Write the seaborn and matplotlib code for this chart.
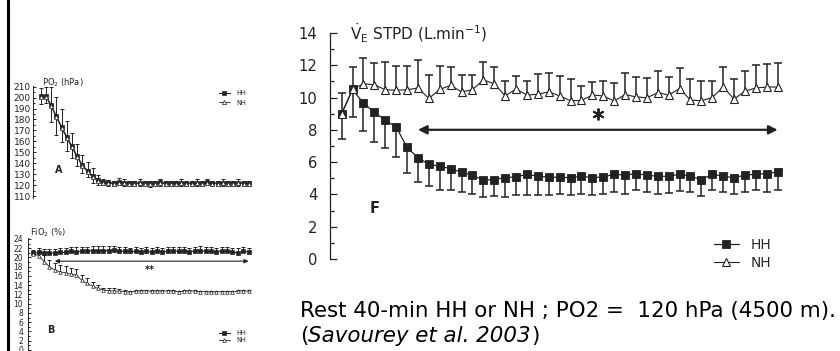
import numpy as np
import matplotlib
matplotlib.use("Agg")
import matplotlib.pyplot as plt
import seaborn as sns
from matplotlib.lines import Line2D

# minutes of rest (41 samples, one per minute)
minutes = np.arange(41)

# panel A : PO2 (hPa)
po2_hh = [201.5, 201.5, 193.3, 183.2, 173.4, 164.3, 155.7, 146.6, 138.4, 133.2, 128.3,
          124.6, 123.0, 122.5, 122.0, 122.8, 122.3, 122.0, 121.8, 122.2, 121.9, 122.1,
          121.8, 122.4, 122.0, 121.7, 122.1, 122.3, 121.9, 122.0, 122.2, 121.8, 122.4,
          122.0, 121.9, 122.2, 122.0, 121.8, 122.3, 122.1, 122.0]
po2_nh = [200.5, 200.8, 192.0, 182.0, 172.5, 163.0, 154.5, 145.5, 137.5, 132.0, 127.0,
          123.5, 122.0, 121.5, 121.3, 122.0, 121.6, 121.2, 121.0, 121.5, 121.2, 121.4,
          121.0, 121.6, 121.3, 121.0, 121.4, 121.6, 121.2, 121.3, 121.5, 121.1, 121.7,
          121.3, 121.2, 121.5, 121.3, 121.1, 121.6, 121.4, 121.3]
po2_hh_sd = [7, 8, 16, 17, 16, 14, 12, 11, 9, 8, 7, 5, 3, 2.5, 2, 4, 3, 2, 2, 3, 2, 2,
             2, 3, 2, 2, 2, 3, 2, 2, 3, 2, 3, 2, 2, 3, 2, 2, 3, 2, 2]
po2_nh_sd = [6, 6, 14, 16, 13, 12, 10, 8, 6, 5, 5, 3, 2, 2, 2, 2, 2, 2, 2, 2, 2, 3,
             2, 2, 2, 2, 2, 2, 2, 2, 2, 2, 2, 2, 2, 2, 2, 2, 2, 2, 2]

# panel B : FiO2 (%)
fio2_hh = [20.9, 21.1, 21.0, 21.0, 20.9, 21.1, 21.1, 21.3, 21.2, 21.3, 21.4, 21.5, 21.5,
           21.5, 21.5, 21.6, 21.3, 21.4, 21.3, 21.3, 21.2, 21.3, 21.2, 21.3, 21.2, 21.3,
           21.3, 21.4, 21.3, 21.2, 21.4, 21.5, 21.3, 21.3, 21.2, 21.4, 21.3, 21.2, 21.0,
           21.3, 21.2]
fio2_nh = [20.8, 20.4, 19.1, 18.0, 17.3, 16.9, 16.7, 16.4, 16.2, 15.1, 14.4, 13.8, 13.3,
           13.0, 12.8, 12.8, 12.7, 12.6, 12.5, 12.7, 12.8, 12.8, 12.7, 12.8, 12.7, 12.8,
           12.7, 12.6, 12.7, 12.8, 12.7, 12.6, 12.6, 12.5, 12.6, 12.6, 12.6, 12.6, 12.7,
           12.8, 12.7]
fio2_hh_sd = [0.8, 0.9, 0.9, 0.8, 1.0, 0.9, 0.9, 0.9, 1.0, 0.9, 0.9, 0.9, 0.9, 0.9, 0.9,
              0.9, 0.9, 0.8, 0.8, 0.9, 0.9, 0.9, 0.9, 0.9, 0.9, 0.9, 0.9, 0.9, 1.0, 0.9,
              0.9, 0.9, 0.9, 0.9, 0.9, 0.9, 0.9, 0.9, 1.0, 0.9, 0.9]
fio2_nh_sd = [0.5, 0.9, 1.4, 1.5, 1.5, 1.4, 1.4, 1.4, 1.3, 1.2, 1.1, 0.9, 0.7, 0.5, 0.5,
              0.5, 0.4, 0.4, 0.3, 0.2, 0.2, 0.2, 0.2, 0.2, 0.2, 0.2, 0.2, 0.2, 0.2, 0.2,
              0.2, 0.2, 0.2, 0.2, 0.2, 0.2, 0.2, 0.2, 0.2, 0.2, 0.2]

# panel F : VE STPD (L.min-1)
ve_hh = [9.0, 10.5, 9.64, 9.09, 8.59, 8.18, 6.91, 6.27, 5.86, 5.74, 5.6, 5.36, 5.19,
         4.88, 4.92, 5.04, 5.08, 5.25, 5.12, 5.08, 5.05, 5.04, 5.12, 5.04, 5.08, 5.25,
         5.19, 5.29, 5.19, 5.12, 5.12, 5.25, 5.12, 4.92, 5.25, 5.12, 5.04, 5.19, 5.25,
         5.29, 5.39]
ve_hh_sd = [1.55, 1.72, 1.72, 1.82, 1.74, 1.85, 1.61, 1.5, 1.36, 1.44, 1.3, 1.21, 1.18,
            1.03, 1.03, 1.19, 1.09, 1.26, 1.17, 1.13, 1.05, 1.09, 1.12, 1.09, 1.08, 1.1,
            1.15, 1.03, 1.04, 1.08, 1.04, 1.05, 0.97, 1.03, 0.99, 0.97, 1.04, 1.04, 0.99,
            1.14, 1.09]
ve_nh = [9.0, 10.5, 10.85, 10.79, 10.48, 10.45, 10.48, 10.59, 9.94, 10.5, 10.75, 10.35,
         10.48, 11.09, 10.85, 10.1, 10.53, 10.15, 10.2, 10.35, 10.1, 9.8, 9.82, 10.15,
         10.1, 9.78, 10.18, 10.04, 9.98, 10.3, 10.15, 10.55, 9.84, 9.8, 10.0, 10.65, 9.9,
         10.39, 10.59, 10.65, 10.65]
ve_nh_sd = [1.3, 1.37, 1.62, 1.37, 1.74, 1.51, 1.49, 1.71, 1.45, 1.47, 1.15, 1.07, 0.94,
            1.13, 1.01, 0.91, 0.83, 0.9, 1.25, 1.15, 1.25, 1.35, 0.87, 0.8, 0.95, 1.13,
            1.32, 1.21, 1.21, 1.32, 1.15, 1.27, 1.31, 1.25, 1.05, 1.21, 1.25, 1.23, 1.41,
            1.41, 1.51]

W, H = 840, 351
INK = "#222222"

sns.set_style("ticks")
plt.rcParams["font.family"] = ["DejaVu Sans"]
plt.rcParams["mathtext.fontset"] = "dejavusans"

fig = plt.figure(figsize=(W / 100, H / 100), dpi=100)


def px_axes(left, top, right, bottom):
    return fig.add_axes([left / W, 1 - bottom / H, (right - left) / W, (bottom - top) / H])


def bars(ax, x, y, sd, up, lw, cap):
    y = np.asarray(y, float)
    end = y + np.asarray(sd) if up else y - np.asarray(sd)
    ax.vlines(x, y, end, colors=INK, lw=lw, zorder=2)
    ax.plot(x, end, ls="none", marker="_", ms=cap, mew=lw, color=INK, zorder=2)


def style_axis(ax, size, pad, major, minor, lw):
    sns.despine(ax=ax, bottom=True)
    ax.spines["left"].set_linewidth(lw)
    ax.spines["left"].set_color(INK)
    ax.tick_params(axis="y", which="major", direction="in", length=major, width=lw,
                   labelsize=size, pad=pad, colors=INK)
    ax.tick_params(axis="y", which="minor", direction="in", length=minor, width=lw, colors=INK)
    ax.set_xticks([])
    ax.set_xlabel("")
    ax.set_ylabel("")
    ax.patch.set_alpha(0)


# ---------------- panel A ----------------
axA = px_axes(33, 85.6, 255, 198.2)
bars(axA, minutes, po2_hh, po2_hh_sd, True, 0.7, 3.4)
bars(axA, minutes, po2_nh, po2_nh_sd, False, 0.7, 3.4)
sns.lineplot(x=minutes, y=po2_hh, ax=axA, color=INK, lw=0.8, marker="s", ms=3.2,
             mec=INK, mew=0.5, label="HH", zorder=3)
sns.lineplot(x=minutes, y=po2_nh, ax=axA, color=INK, lw=0.6, marker="^", ms=3,
             mfc="white", mec=INK, mew=0.5, label="NH", zorder=3)
axA.set_xlim(-1.48, 41.2)
axA.set_ylim(108, 211)
axA.set_yticks(np.arange(110, 211, 10))
axA.set_yticks(np.arange(110, 211, 5), minor=True)
style_axis(axA, 6.5, 1.5, 2.5, 1.5, 0.7)
axA.text(0.25, 213.4, "PO$_2$ (hPa)", fontsize=6, color=INK, va="center", clip_on=False)
axA.text(2.75, 133.8, "A", fontsize=7, weight="bold", color=INK, va="center")
h, l = axA.get_legend_handles_labels()
axA.legend(h, l, loc="center left", bbox_to_anchor=(219 / W, 1 - 98 / H),
           bbox_transform=fig.transFigure, frameon=False, fontsize=4.8, handlelength=1.6,
           handletextpad=1.0, labelspacing=0.5, borderpad=0, borderaxespad=0)

# ---------------- panel B ----------------
axB = px_axes(28, 237.6, 255, 350.9)
bars(axB, minutes, fio2_hh, fio2_hh_sd, True, 0.7, 3.0)
bars(axB, minutes, fio2_nh, fio2_nh_sd, True, 0.7, 3.0)
sns.lineplot(x=minutes, y=fio2_hh, ax=axB, color=INK, lw=0.8, marker="s", ms=3.2,
             mec=INK, mew=0.5, label="HH", zorder=3)
sns.lineplot(x=minutes, y=fio2_nh, ax=axB, color=INK, lw=0.6, marker="^", ms=2.6,
             mfc="white", mec=INK, mew=0.5, label="NH", zorder=3)
axB.set_xlim(-0.99, 41.2)
axB.set_ylim(-0.2, 24.3)
axB.set_yticks(np.arange(0, 25, 2))
axB.set_yticks(np.arange(0, 25, 1), minor=True)
style_axis(axB, 5.5, 3.5, 2.5, 1.5, 0.7)
axB.text(-0.6, 25.3, "FiO$_2$ (%)", fontsize=6, color=INK, va="center", clip_on=False)
axB.text(2.55, 4.3, "B", fontsize=7, weight="bold", color=INK, va="center")
axB.annotate("", xy=(40, 19.2), xytext=(4, 19.2),
             arrowprops=dict(arrowstyle="<|-|>", color=INK, lw=0.8, mutation_scale=6,
                             shrinkA=0, shrinkB=0))
axB.text(21.7, 17.3, "**", fontsize=7, weight="bold", color=INK, ha="center", va="center")
h, l = axB.get_legend_handles_labels()
axB.legend(h, l, loc="center left", bbox_to_anchor=(219 / W, 1 - 336.5 / H),
           bbox_transform=fig.transFigure, frameon=False, fontsize=4.8, handlelength=1.6,
           handletextpad=1.0, labelspacing=0.1, borderpad=0, borderaxespad=0)

# ---------------- panel F ----------------
axF = px_axes(330, 32.9, 800, 259)
bars(axF, minutes, ve_hh, ve_hh_sd, False, 1.1, 5.8)
bars(axF, minutes, ve_nh, ve_nh_sd, True, 1.1, 5.8)
sns.lineplot(x=minutes, y=ve_hh, ax=axF, color=INK, lw=0.9, marker="s", ms=5.2,
             mec=INK, mew=0.6, label="HH", zorder=3)
sns.lineplot(x=minutes, y=ve_nh, ax=axF, color=INK, lw=0.8, marker="^", ms=5.5,
             mfc="white", mec=INK, mew=0.8, label="NH", zorder=3)
axF.set_xlim(-1.07, 42.05)
axF.set_ylim(0, 14)
axF.set_yticks(np.arange(0, 15, 2))
axF.set_yticks(np.arange(1, 14, 2), minor=True)
style_axis(axF, 10.6, 9, 5, 3, 0.9)
axF.text(0.8, 14.0, r"$\dot{\mathrm{V}}_{\mathrm{E}}$ STPD (L.min$^{-1}$)", fontsize=11,
         color=INK, va="center", clip_on=False)
axF.text(3.05, 3.1, "F", fontsize=10.5, weight="bold", color=INK, ha="center", va="center")
axF.annotate("", xy=(40, 8.0), xytext=(7, 8.0),
             arrowprops=dict(arrowstyle="<|-|>", color=INK, lw=1.6, mutation_scale=13,
                             shrinkA=0, shrinkB=0))
axF.plot([23.5], [9.0], marker=(6, 2, 0), ms=8.5, mew=1.4, color=INK)
h, l = axF.get_legend_handles_labels()
axF.legend(h, l, loc="center left", bbox_to_anchor=(714 / W, 1 - 254 / H),
           bbox_transform=fig.transFigure, frameon=False, fontsize=9.9, handlelength=1.8,
           handletextpad=0.9, labelspacing=0.25, borderpad=0, borderaxespad=0)

# left border of the figure frame
fig.add_artist(Line2D([7.5 / W, 7.5 / W], [0, 1], color="black", lw=2.2))

# caption
cap_size = 15.4
fig.text(300 / W, 1 - 317 / H, "Rest 40-min HH or NH ; PO2 =  120 hPa (4500 m).",
         fontsize=cap_size, color="black", va="baseline")
renderer = fig.canvas.get_renderer()
y2 = 1 - 342 / H
t = fig.text(300 / W, y2, "(", fontsize=cap_size, color="black", va="baseline")
x_next = t.get_window_extent(renderer).x1 / W
t = fig.text(x_next, y2, "Savourey et al. 2003", fontsize=cap_size, style="italic",
             color="black", va="baseline")
x_next = t.get_window_extent(renderer).x1 / W
fig.text(x_next, y2, ")", fontsize=cap_size, color="black", va="baseline")

fig.savefig("out.png", dpi=100)
